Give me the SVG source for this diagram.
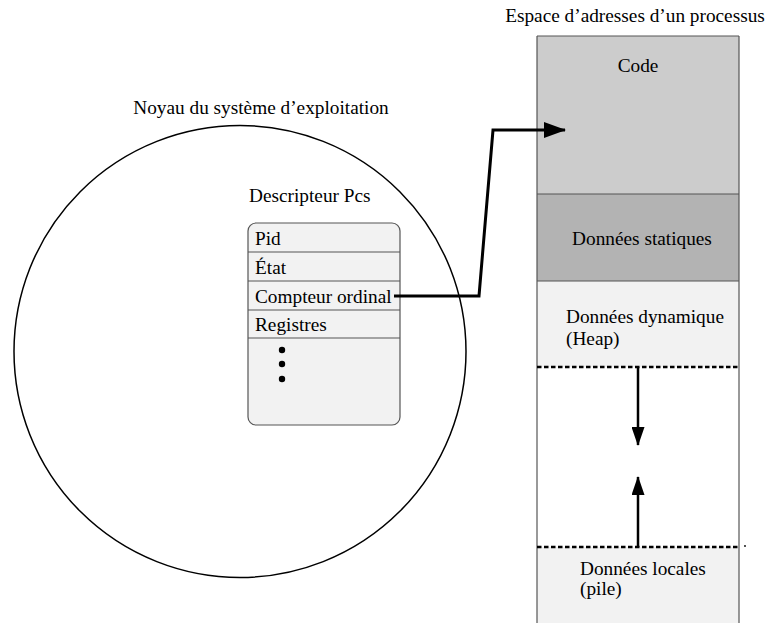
<svg xmlns="http://www.w3.org/2000/svg" width="766" height="623" viewBox="0 0 766 623">
  <style>
    text { font-family: "Liberation Serif", "Times New Roman", serif; font-size: 19.3px; fill: #000; }
    .seg { stroke: #555; stroke-width: 1.2; }
    .side { stroke: #555; stroke-width: 1.2; fill: none; }
    .dash { stroke: #000; stroke-width: 2.4; stroke-dasharray: 4.5 2.5; fill: none; }
    .conn { stroke: #000; stroke-width: 3; fill: none; }
    .vec { stroke: #000; stroke-width: 2.5; fill: none; }
    .row { stroke: #555; stroke-width: 1.2; }
  </style>
  <defs>
    <marker id="head" markerWidth="22" markerHeight="16" refX="21" refY="8" orient="auto" markerUnits="userSpaceOnUse">
      <path d="M0,0 L22,8 L0,16 Z" fill="#000"/>
    </marker>
    <marker id="headThin" markerWidth="19" markerHeight="13" refX="18" refY="6.5" orient="auto" markerUnits="userSpaceOnUse">
      <path d="M0,0 L19,6.5 L0,13 Z" fill="#000"/>
    </marker>
  </defs>
  <rect width="766" height="623" fill="#fff"/>

  <!-- Kernel -->
  <g id="noyau">
    <text x="261" y="114" text-anchor="middle">Noyau du système d’exploitation</text>
    <circle cx="240" cy="351.5" r="226" fill="none" stroke="#000" stroke-width="1.5"/>
  </g>

  <!-- Process control block -->
  <g id="descripteur">
    <text x="249" y="202">Descripteur Pcs</text>
    <rect x="248" y="223" width="152" height="202" rx="8" ry="8" fill="#f2f2f2" stroke="#555" stroke-width="1.2"/>
    <line class="row" x1="248" y1="252" x2="400" y2="252"/>
    <line class="row" x1="248" y1="281" x2="400" y2="281"/>
    <line class="row" x1="248" y1="310" x2="400" y2="310"/>
    <line class="row" x1="248" y1="338" x2="400" y2="338"/>
    <text x="255" y="245">Pid</text>
    <text x="255" y="274">État</text>
    <text x="255" y="303">Compteur ordinal</text>
    <text x="255" y="331">Registres</text>
    <circle cx="282" cy="350" r="3.2" fill="#000"/>
    <circle cx="282" cy="364" r="3.2" fill="#000"/>
    <circle cx="282" cy="379" r="3.2" fill="#000"/>
  </g>

  <!-- Address space -->
  <g id="espace">
    <text x="635" y="22" text-anchor="middle">Espace d’adresses d’un processus</text>
    <rect x="537" y="36" width="202" height="158" fill="#cccccc"/>
    <rect x="537" y="194" width="202" height="87" fill="#b3b3b3"/>
    <rect x="537" y="281" width="202" height="86" fill="#f2f2f2"/>
    <rect x="537" y="547" width="202" height="76" fill="#f2f2f2"/>
    <line class="seg" x1="537" y1="36" x2="739" y2="36"/>
    <line class="seg" x1="537" y1="194" x2="739" y2="194"/>
    <line class="seg" x1="537" y1="281" x2="739" y2="281"/>
    <line class="side" x1="537" y1="36" x2="537" y2="623"/>
    <line class="side" x1="739" y1="36" x2="739" y2="623"/>
    <line class="dash" x1="537" y1="367" x2="739" y2="367"/>
    <line class="dash" x1="537" y1="547" x2="739" y2="547"/>
    <circle cx="745" cy="546" r="0.9" fill="#000"/>
    <text x="638" y="72" text-anchor="middle">Code</text>
    <text x="642" y="245" text-anchor="middle">Données statiques</text>
    <text x="566" y="323">Données dynamique</text>
    <text x="566" y="345">(Heap)</text>
    <text x="580" y="575">Données locales</text>
    <text x="580" y="595">(pile)</text>
  </g>

  <!-- Connectors -->
  <g id="connecteurs">
    <polyline class="conn" points="394,296 479,296 493,130 565,130" marker-end="url(#head)"/>
    <line class="vec" x1="638" y1="367" x2="638" y2="445" marker-end="url(#headThin)"/>
    <line class="vec" x1="638" y1="547" x2="638" y2="477" marker-end="url(#headThin)"/>
  </g>
</svg>
